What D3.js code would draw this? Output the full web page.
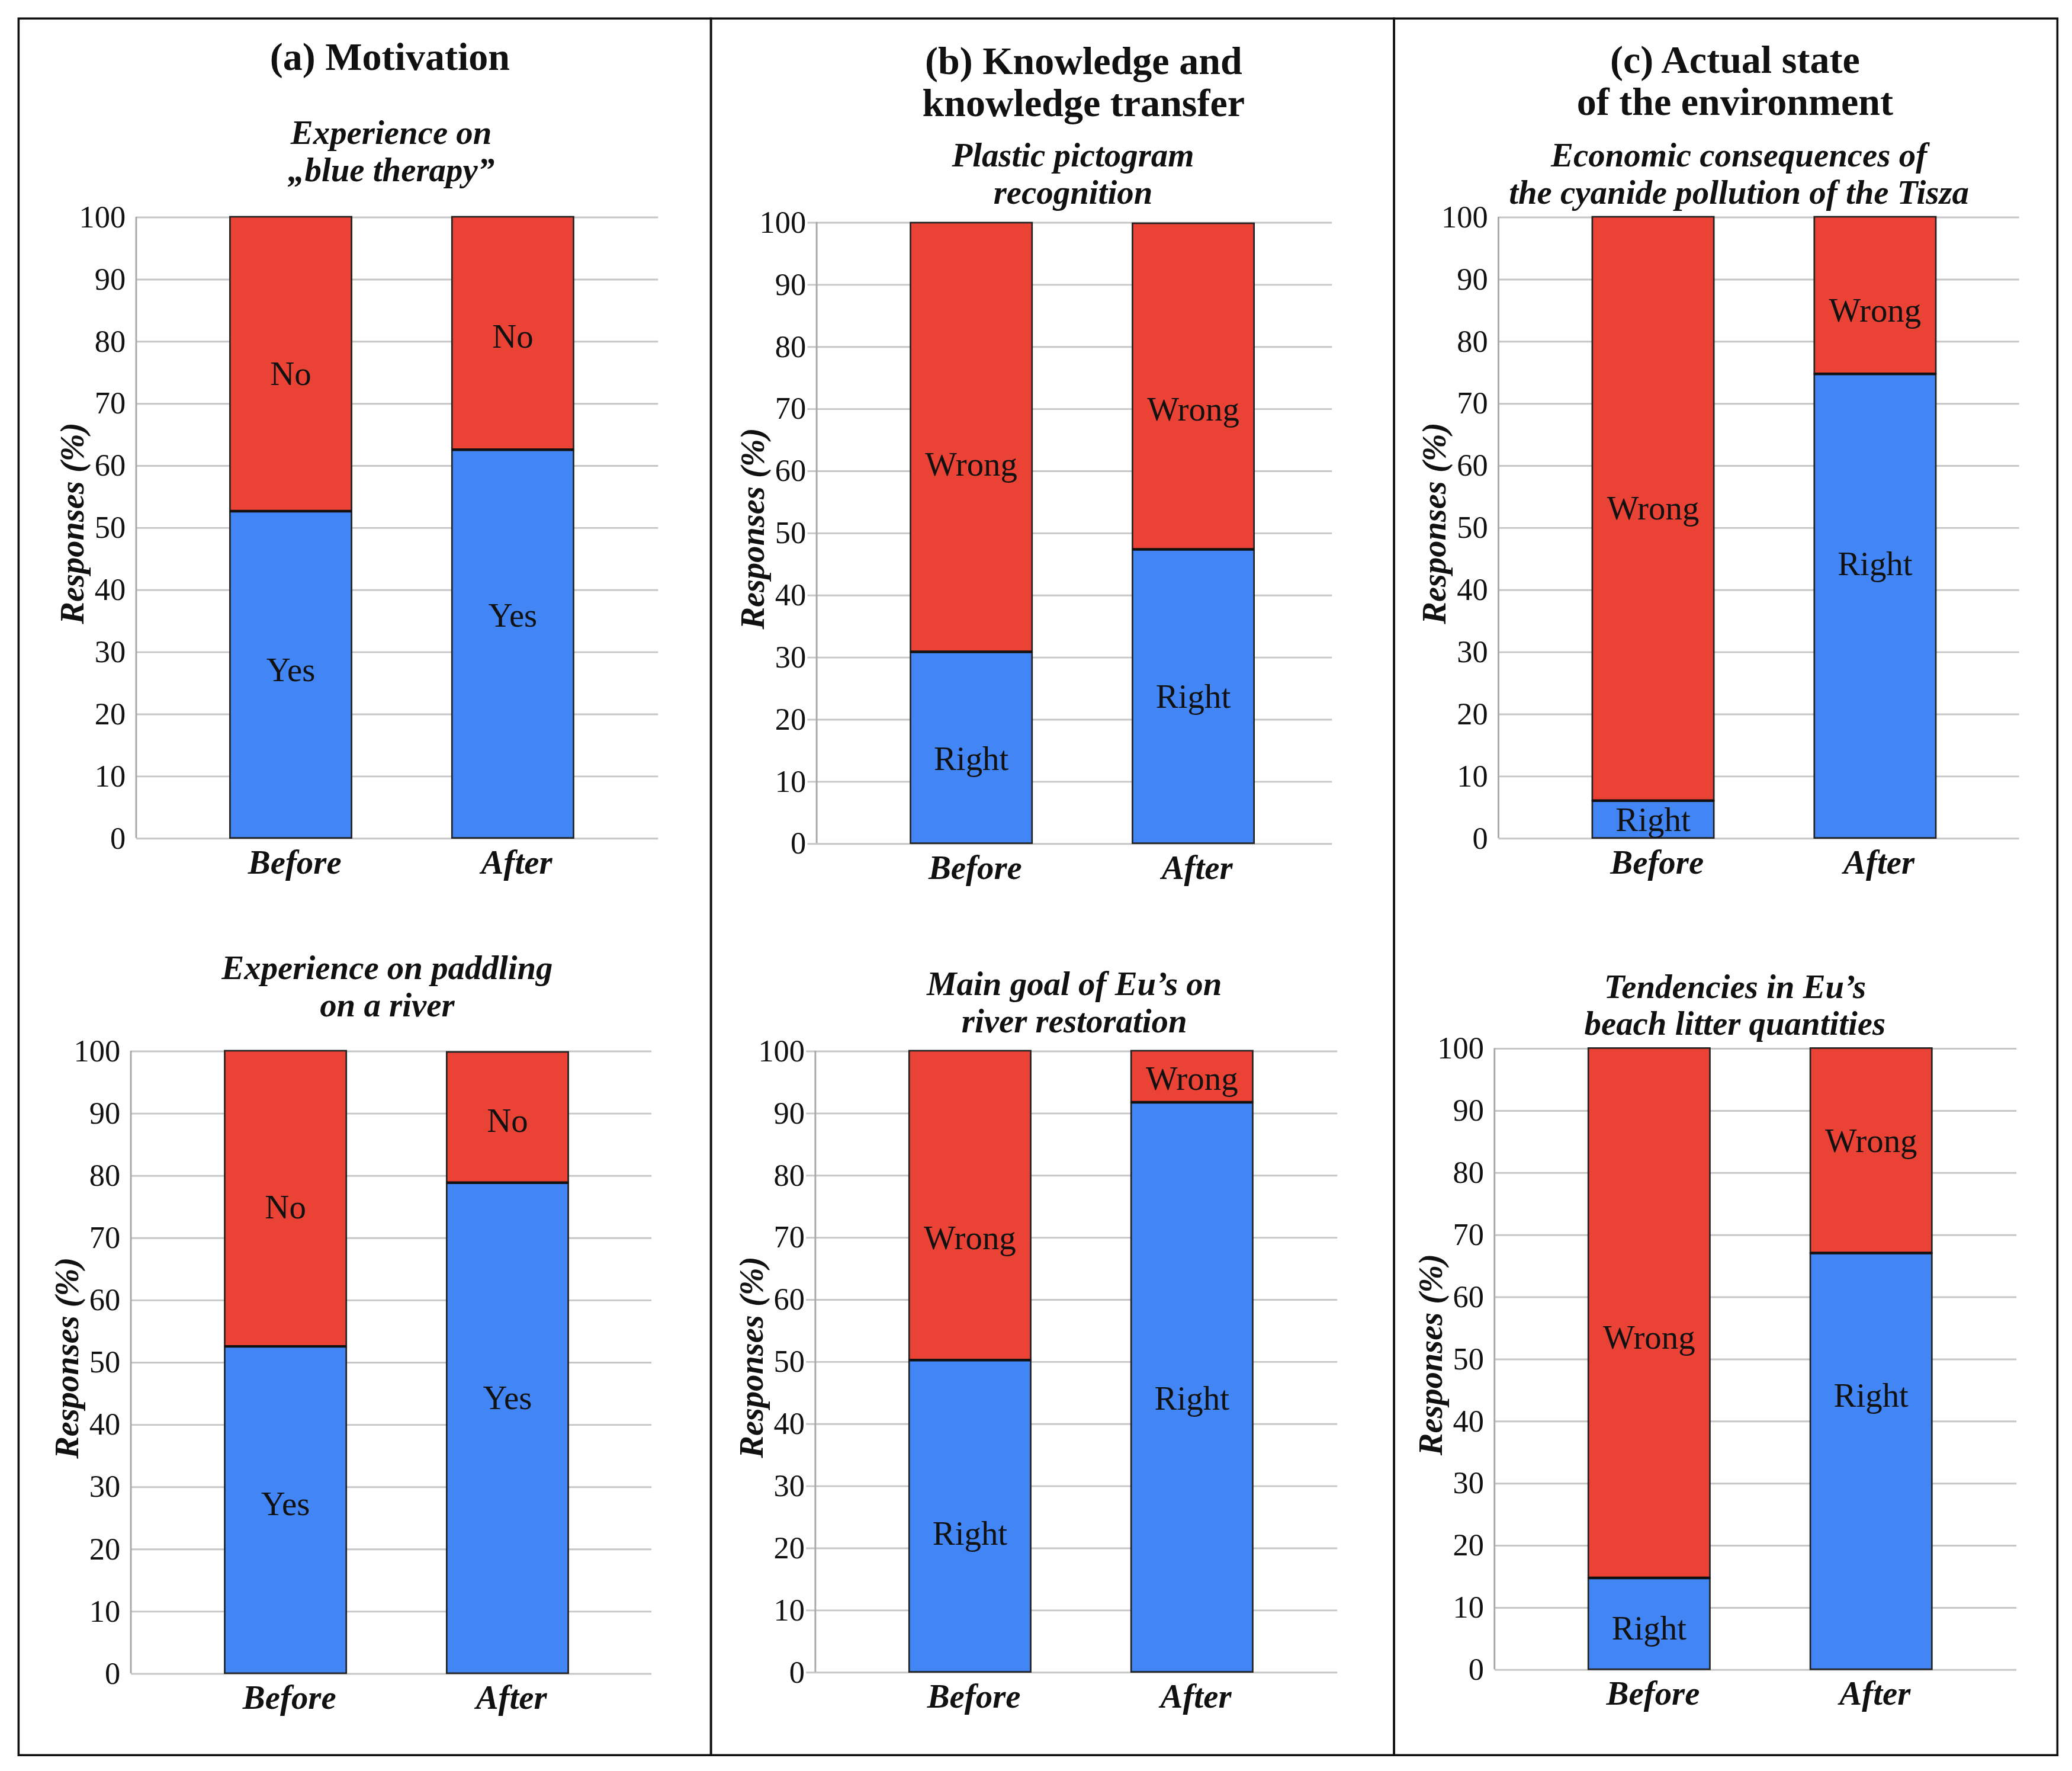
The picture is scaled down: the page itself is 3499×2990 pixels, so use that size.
<!DOCTYPE html>
<html>
<head>
<meta charset="utf-8">
<script src="https://cdn.jsdelivr.net/npm/d3@7"></script>
<style>
  body { margin: 0; background: #fff; }
  text { font-family: "Liberation Serif", "Times New Roman", serif; fill: #111; }
</style>
</head>
<body>
<div id="chart"></div>
<script>
// categories on the x axis
var categories = ["Before", "After"];

// panel headings
var panelTitles = [
    ["(a) Motivation"],
    ["(b) Knowledge and", "knowledge transfer"],
    ["(c) Actual state", "of the environment"]
];

// chart headings, in order a-top, a-bottom, b-top, b-bottom, c-top, c-bottom
var chartTitles = [
    ["Experience on", "\u201Eblue therapy\u201D"],
    ["Experience on paddling", "on a river"],
    ["Plastic pictogram", "recognition"],
    ["Main goal of Eu\u2019s on", "river restoration"],
    ["Economic consequences of", "the cyanide pollution of the Tisza"],
    ["Tendencies in Eu\u2019s", "beach litter quantities"]
];

// segment names
var lowerNames = ["Yes", "Yes", "Right", "Right", "Right", "Right"];
var upperNames = ["No", "No", "Wrong", "Wrong", "Wrong", "Wrong"];

// % values (Before, After)
var lowerValues = [
    [52.6, 62.5],
    [52.5, 78.8],
    [30.8, 47.3],
    [50.2, 91.7],
    [6.0, 74.7],
    [14.7, 67.0]
];
var upperValues = [
    [47.4, 37.5],
    [47.5, 21.0],
    [69.1, 52.5],
    [49.8, 8.3],
    [94.0, 25.3],
    [85.3, 33.0]
];

var yTicks = [0, 10, 20, 30, 40, 50, 60, 70, 80, 90, 100];

// ---- layout (in 1568 x 1340 units, scaled up to the page) ----
var W = 1568, H = 1340;
var FONT = "'Liberation Serif', 'Times New Roman', serif";
var panels = [
    {x0: 14, x1: 538, titleX: 295, titleY: 53},
    {x0: 538, x1: 1055, titleX: 820, titleY: 56},
    {x0: 1055, x1: 1557, titleX: 1313, titleY: 55}
];
// lowShift / upShift: nudges of the in-bar labels (Before, After)
var charts = [
    {left: 103, right: 498, y0: 634, y100: 164, tx: 296, ty: 109, tickOut: 0,
     lowShift: [-4, -22], upShift: [7, 2]},
    {left: 99, right: 493, y0: 1266, y100: 795, tx: 293, ty: 741, tickOut: 0,
     lowShift: [-5, -23], upShift: [6, 2]},
    {left: 618, right: 1008, y0: 638, y100: 168, tx: 812, ty: 126, tickOut: 7,
     lowShift: [8, 0], upShift: [20, 17]},
    {left: 617, right: 1012, y0: 1265, y100: 795, tx: 813, ty: 753, tickOut: 7,
     lowShift: [13, 8], upShift: [24, 1]},
    {left: 1134, right: 1528, y0: 634, y100: 164, tx: 1316, ty: 126, tickOut: 0,
     lowShift: [0, -32], upShift: [-1, 11]},
    {left: 1131, right: 1526, y0: 1263, y100: 793, tx: 1313, ty: 755, tickOut: 0,
     lowShift: [3, -50], upShift: [18, -8]}
];

var blue = "#4285f4", red = "#ea4335";

var svg = d3.select("#chart").append("svg")
    .attr("width", 3499)
    .attr("height", 2990)
    .attr("viewBox", "0 0 " + W + " " + H);

svg.append("rect").attr("width", W).attr("height", H).attr("fill", "#fff");

function addText(sel, size, weight, style) {
    return sel.append("text")
        .style("font-family", FONT)
        .style("font-size", size + "px")
        .style("font-weight", weight || "normal")
        .style("font-style", style || "normal")
        .style("fill", "#111");
}

// panel boxes and headings
panels.forEach(function(p, i) {
    svg.append("rect")
        .attr("x", p.x0).attr("y", 14)
        .attr("width", p.x1 - p.x0).attr("height", 1314)
        .attr("fill", "none")
        .attr("stroke", "#111")
        .attr("stroke-width", 1.6);

    var t = addText(svg, 29.6, "bold").attr("text-anchor", "middle");
    panelTitles[i].forEach(function(line, k) {
        t.append("tspan")
            .attr("x", p.titleX)
            .attr("y", p.titleY + k * 32)
            .text(line);
    });
});

charts.forEach(function(c, i) {
    var w = c.right - c.left;

    var y = d3.scaleLinear().domain([0, 100]).range([c.y0, c.y100]);
    var x = d3.scaleBand().domain(categories)
        .range([c.left, c.left + 402])
        .paddingInner(0.4524)
        .paddingOuter(0.4226);

    // title
    var t = addText(svg, 25.5, "bold", "italic").attr("text-anchor", "middle");
    chartTitles[i].forEach(function(line, k) {
        t.append("tspan")
            .attr("x", c.tx)
            .attr("y", c.ty + k * 28)
            .text(line);
    });

    // y axis with gridlines
    var yAxis = d3.axisLeft(y)
        .tickValues(yTicks)
        .tickSize(-(w + c.tickOut))
        .tickSizeOuter(0)
        .tickPadding(c.tickOut > 0 ? 1 : 8);

    var g = svg.append("g")
        .attr("transform", "translate(" + (c.left - c.tickOut) + ",0)")
        .call(yAxis);
    g.select(".domain").remove();
    g.selectAll(".tick line")
        .attr("stroke", "#c6c6c6")
        .attr("stroke-width", 1.3);
    g.selectAll(".tick text")
        .style("font-family", FONT)
        .style("font-size", "23.5px")
        .style("fill", "#111");

    svg.append("line")
        .attr("x1", c.left).attr("x2", c.left)
        .attr("y1", y(0)).attr("y2", y(100))
        .attr("stroke", "#a8a8a8")
        .attr("stroke-width", 1.3);

    // axis title
    addText(svg, 25.3, "bold", "italic")
        .attr("transform", "translate(" + (c.left - 40) + "," + ((c.y0 + c.y100) / 2 - 3) + ") rotate(-90)")
        .attr("text-anchor", "middle")
        .text("Responses (%)");

    // stacked bars
    categories.forEach(function(cat, j) {
        var lo = lowerValues[i][j], up = upperValues[i][j];
        var cx = x(cat) + x.bandwidth() / 2;

        svg.append("rect")
            .attr("x", x(cat))
            .attr("y", y(lo + up))
            .attr("width", x.bandwidth())
            .attr("height", y(lo) - y(lo + up))
            .attr("fill", red)
            .attr("stroke", "#222")
            .attr("stroke-width", 1.2);

        svg.append("rect")
            .attr("x", x(cat))
            .attr("y", y(lo))
            .attr("width", x.bandwidth())
            .attr("height", y(0) - y(lo))
            .attr("fill", blue)
            .attr("stroke", "#222")
            .attr("stroke-width", 1.2);

        svg.append("line")
            .attr("x1", x(cat)).attr("x2", x(cat) + x.bandwidth())
            .attr("y1", y(lo)).attr("y2", y(lo))
            .attr("stroke", "#111")
            .attr("stroke-width", 2);

        addText(svg, 25.5)
            .attr("x", cx)
            .attr("y", y(lo / 2) + c.lowShift[j])
            .attr("dy", "0.35em")
            .attr("text-anchor", "middle")
            .text(lowerNames[i]);

        addText(svg, 25.5)
            .attr("x", cx)
            .attr("y", y(lo + up / 2) + c.upShift[j])
            .attr("dy", "0.35em")
            .attr("text-anchor", "middle")
            .text(upperNames[i]);

        addText(svg, 25.5, "bold", "italic")
            .attr("x", cx + 3)
            .attr("y", c.y0 + 27)
            .attr("text-anchor", "middle")
            .text(cat);
    });
});
</script>
</body>
</html>
